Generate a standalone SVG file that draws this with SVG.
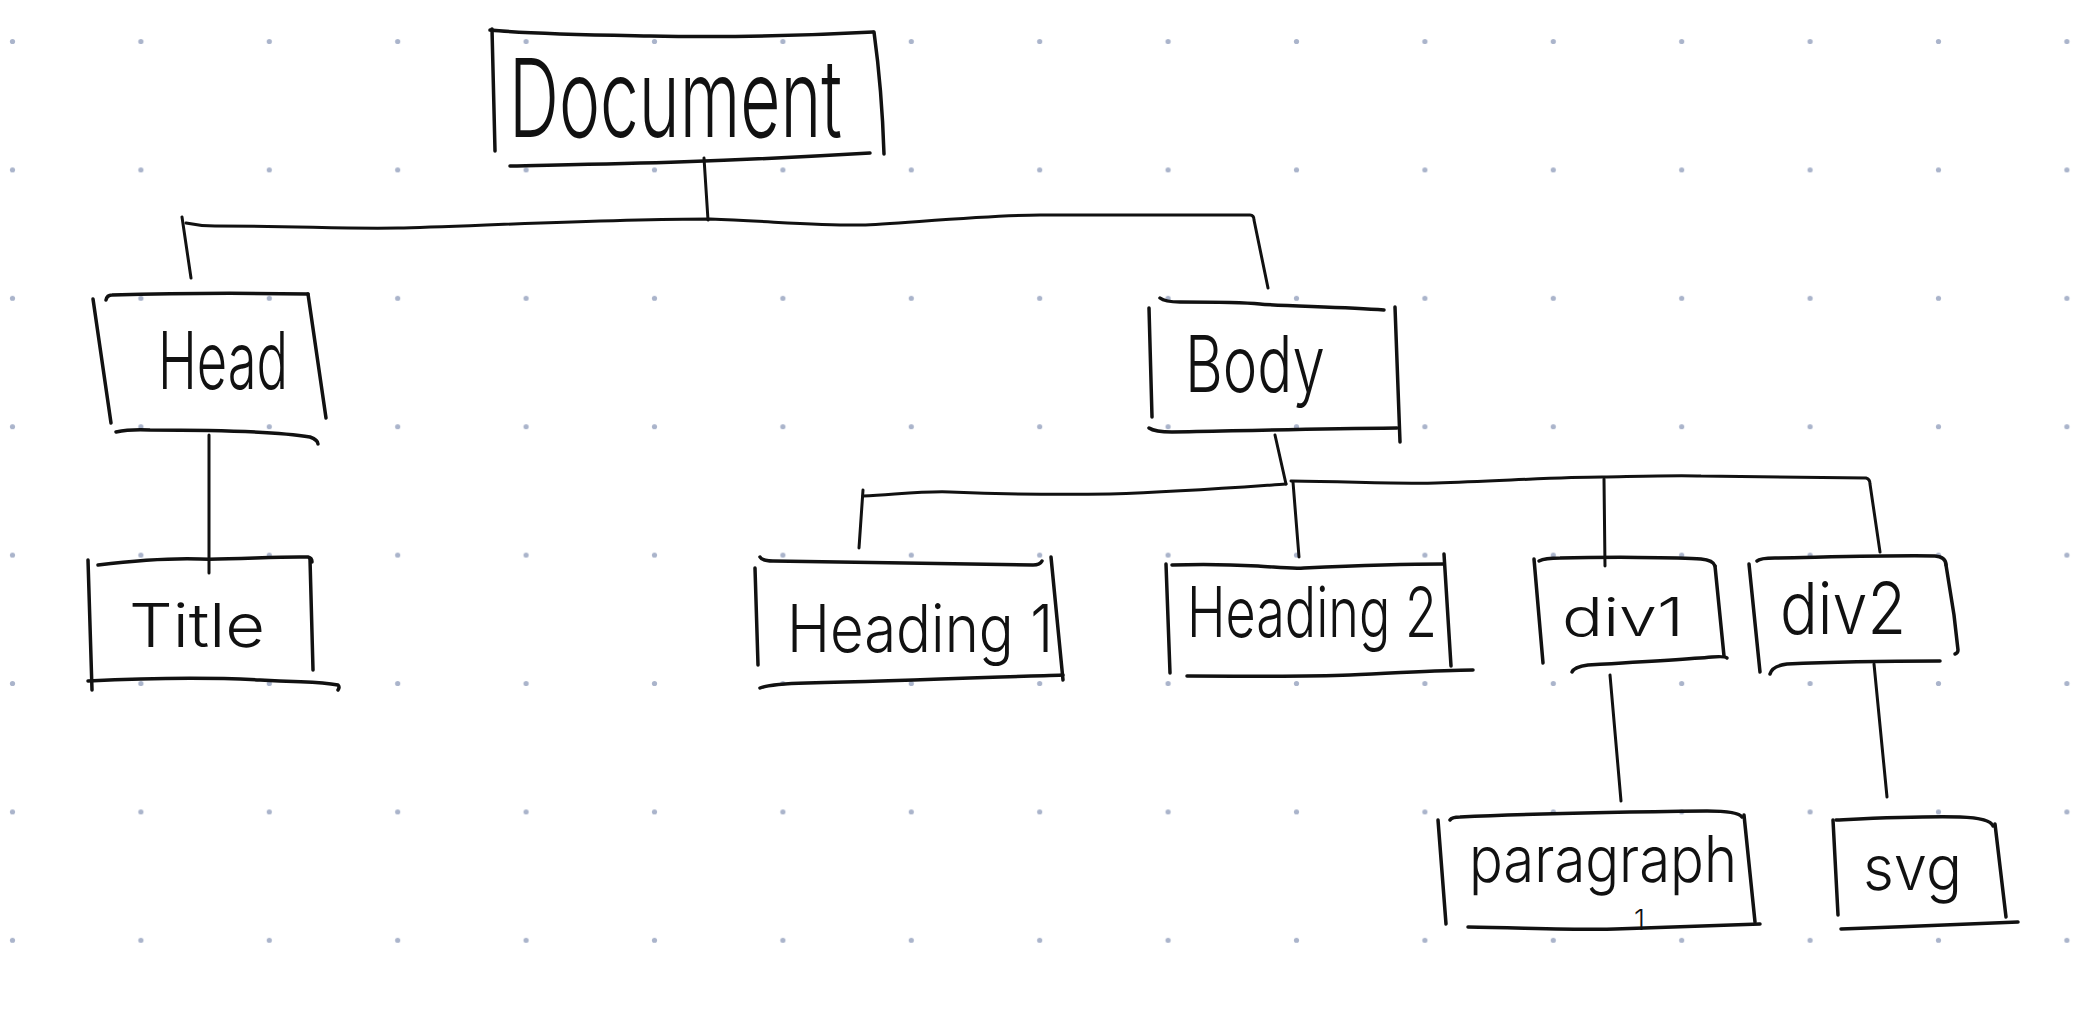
<svg xmlns="http://www.w3.org/2000/svg" width="2076" height="1011" viewBox="0 0 2076 1011">
<style>
.ln{fill:none;stroke:#111;stroke-width:3.5;stroke-linecap:round;stroke-linejoin:round}
.cn{fill:none;stroke:#111;stroke-width:3;stroke-linecap:round;stroke-linejoin:round}
.lbl{font-family:Inter,"Liberation Sans",sans-serif;font-weight:300;fill:#111}
</style>
<defs>
<pattern id="dots" patternUnits="userSpaceOnUse" x="-51.7" y="-22.7" width="128.4" height="128.4">
<circle cx="64.2" cy="64.2" r="2.6" fill="#aab4cb"/>
</pattern>
</defs>
<rect width="2076" height="1011" fill="#fff"/>
<rect width="2076" height="1011" fill="url(#dots)"/>

<g id="connectors">
<path class="cn" d="M704,158 L708,220"/>
<path class="cn" d="M186,223 Q200,226 215,226 C300,226 340,229 398,228 S600,219 710,219 C780,222 830,226 862,225 S990,215 1040,215 L1250,215 Q1254,215 1254,220 L1268,288"/>
<path class="cn" d="M182,217 L191,278"/>
<path class="cn" d="M209,435 L209,573"/>
<path class="cn" d="M1275,435 L1286,484"/>
<path class="cn" d="M863,496 C900,494 925,491 950,492 S1050,495 1110,494 C1180,492 1230,488 1286,484"/>
<path class="cn" d="M1291,481 C1360,482 1400,484 1436,483 C1500,481 1560,477 1602,477 C1650,476 1680,475 1701,476 C1780,477 1840,478 1866,478 Q1870,479 1870,484 L1880,552"/>
<path class="cn" d="M863,490 L859,548"/>
<path class="cn" d="M1293,482 L1299,557"/>
<path class="cn" d="M1604,479 L1605,566"/>
<path class="cn" d="M1610,675 L1621,801"/>
<path class="cn" d="M1874,664 L1887,797"/>
</g>

<g id="node-document">
<path class="ln" d="M490,30 C530,34 600,35 650,36 S780,37 873,32"/>
<path class="ln" d="M492,29 L495,151"/>
<path class="ln" d="M874,32 Q882,90 884,154"/>
<path class="ln" d="M510,166 C600,164 700,163 870,153"/>
<text class="lbl" x="509" y="137" font-size="108" textLength="333" lengthAdjust="spacingAndGlyphs">Document</text>
</g>

<g id="node-head">
<path class="ln" d="M106,300 Q107,295 112,295 C180,293 250,293 308,294"/>
<path class="ln" d="M93,299 L111,423"/>
<path class="ln" d="M308,294 L326,418"/>
<path class="ln" d="M116,432 Q130,429 150,430 C220,430 280,432 310,437 Q318,440 318,444"/>
<text class="lbl" x="158" y="389" font-size="80" textLength="130" lengthAdjust="spacingAndGlyphs">Head</text>
</g>

<g id="node-body">
<path class="ln" d="M1160,298 Q1165,302 1180,302 C1220,302 1240,302 1260,304 S1340,307 1384,310"/>
<path class="ln" d="M1149,308 L1152,417"/>
<path class="ln" d="M1395,307 L1400,442"/>
<path class="ln" d="M1149,428 Q1155,432 1172,432 C1230,431 1300,429 1397,428"/>
<text class="lbl" x="1185" y="392" font-size="78" textLength="140" lengthAdjust="spacingAndGlyphs">Body</text>
</g>

<g id="node-title">
<path class="ln" d="M98,565 C140,560 170,558 200,559 S280,556 308,557 Q312,558 312,562"/>
<path class="ln" d="M88,560 L92,690"/>
<path class="ln" d="M310,559 L313,670"/>
<path class="ln" d="M88,681 C150,678 200,677 260,680 S320,682 338,685 Q340,687 338,690"/>
<text class="lbl" x="129" y="647" font-size="61" textLength="136" lengthAdjust="spacingAndGlyphs">Title</text>
</g>

<g id="node-heading1">
<path class="ln" d="M760,557 Q762,561 773,561 C850,562 950,564 1033,565 Q1040,565 1042,561"/>
<path class="ln" d="M755,568 L758,665"/>
<path class="ln" d="M1051,557 L1063,680"/>
<path class="ln" d="M760,688 Q770,684 807,683 C900,681 1000,677 1063,675"/>
<text class="lbl" x="787" y="652" font-size="66" textLength="266" lengthAdjust="spacingAndGlyphs">Heading 1</text>
</g>

<g id="node-heading2">
<path class="ln" d="M1172,565 C1200,564 1240,565 1258,566 S1290,569 1304,568 C1370,565 1410,564 1444,564"/>
<path class="ln" d="M1166,564 L1170,673"/>
<path class="ln" d="M1444,554 L1451,666"/>
<path class="ln" d="M1187,676 C1250,676 1300,677 1350,675 S1440,670 1473,670"/>
<text class="lbl" x="1187" y="637" font-size="70" textLength="250" lengthAdjust="spacingAndGlyphs">Heading 2</text>
</g>

<g id="node-div1">
<path class="ln" d="M1539,561 Q1545,558 1560,558 C1600,557 1680,557 1701,559 Q1713,560 1715,566"/>
<path class="ln" d="M1534,559 L1543,663"/>
<path class="ln" d="M1715,566 L1724,656"/>
<path class="ln" d="M1572,672 Q1574,667 1588,665 C1640,662 1690,659 1712,657 Q1725,656 1727,658"/>
<text class="lbl" x="1562" y="636" font-size="53" textLength="122" lengthAdjust="spacingAndGlyphs">div1</text>
</g>

<g id="node-div2">
<path class="ln" d="M1757,561 Q1760,558 1775,558 C1830,557 1900,555 1935,556 Q1946,557 1946,565"/>
<path class="ln" d="M1749,564 L1760,672"/>
<path class="ln" d="M1946,565 L1954,615 L1958,650 Q1958,653 1955,654"/>
<path class="ln" d="M1770,674 Q1772,666 1787,664 C1850,661 1900,661 1940,661"/>
<text class="lbl" x="1780" y="634" font-size="72" textLength="126" lengthAdjust="spacingAndGlyphs">div2</text>
</g>

<g id="node-paragraph1">
<path class="ln" d="M1450,820 Q1452,817 1460,817 C1520,814 1620,812 1707,811 Q1738,811 1742,817"/>
<path class="ln" d="M1438,820 L1446,924"/>
<path class="ln" d="M1744,815 L1755,922"/>
<path class="ln" d="M1468,927 C1530,928 1580,930 1615,929 C1680,927 1730,925 1760,924"/>
<text class="lbl" x="1469" y="882" font-size="64" textLength="268" lengthAdjust="spacingAndGlyphs">paragraph</text>
<text class="lbl" x="1634" y="930" font-size="28">1</text>
</g>

<g id="node-svg">
<path class="ln" d="M1836,820 C1880,818 1920,816 1960,817 Q1990,818 1993,826"/>
<path class="ln" d="M1833,820 L1838,915"/>
<path class="ln" d="M1995,824 L2006,917"/>
<path class="ln" d="M1841,929 C1900,927 1960,924 2018,922"/>
<text class="lbl" x="1863" y="890" font-size="62" textLength="99" lengthAdjust="spacingAndGlyphs">svg</text>
</g>
</svg>
